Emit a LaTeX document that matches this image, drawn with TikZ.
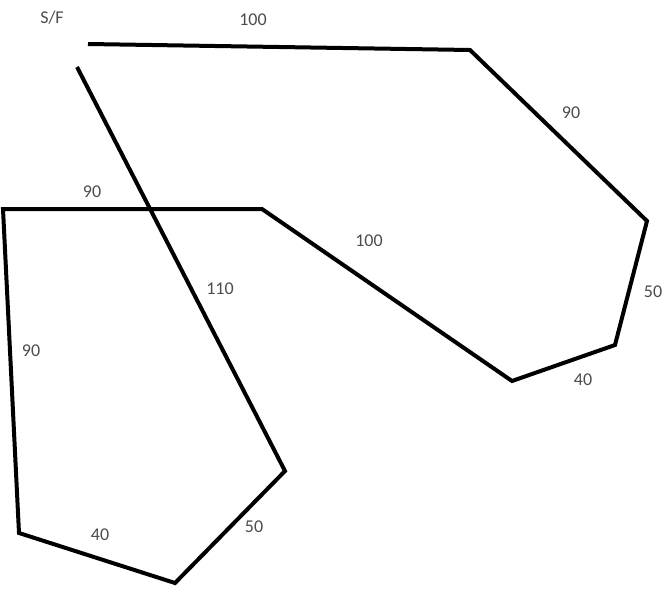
\documentclass[tikz,border=0pt]{standalone}
\usepackage{fontspec}
\setmainfont{Carlito}
\begin{document}
\begin{tikzpicture}[x=1pt,y=-1pt,
  seg/.style={line width=4pt,black,line join=miter,line cap=butt},
  lbl/.style={text=black!70,font=\fontsize{18}{21}\selectfont,inner sep=0pt}]
\useasboundingbox (0,0) rectangle (665,592);
\coordinate (s) at (88,44);
\coordinate (a) at (470,50);
\coordinate (b) at (647,221);
\coordinate (c) at (615,345);
\coordinate (d) at (512,381);
\coordinate (e) at (262,209);
\coordinate (f) at (3,209);
\coordinate (g) at (19,533);
\coordinate (h) at (175,583);
\coordinate (i) at (285,471);
\coordinate (t) at (77,67);
\draw[seg] (s) -- (a) -- (b) -- (c) -- (d) -- (e) -- (f) -- (g) -- (h) -- (i) -- (t);
\node[lbl] (sf) at (52,18) {S/F};
\node[lbl] (l1) at (253,20) {100};
\node[lbl] (l2) at (571,113) {90};
\node[lbl] (l3) at (653,292) {50};
\node[lbl] (l4) at (583,380) {40};
\node[lbl] (l5) at (369,241) {100};
\node[lbl] (l6) at (92,192) {90};
\node[lbl] (l7) at (220,289) {110};
\node[lbl] (l8) at (31,351) {90};
\node[lbl] (l9) at (100,535) {40};
\node[lbl] (l10) at (254,527) {50};
\end{tikzpicture}
\end{document}
